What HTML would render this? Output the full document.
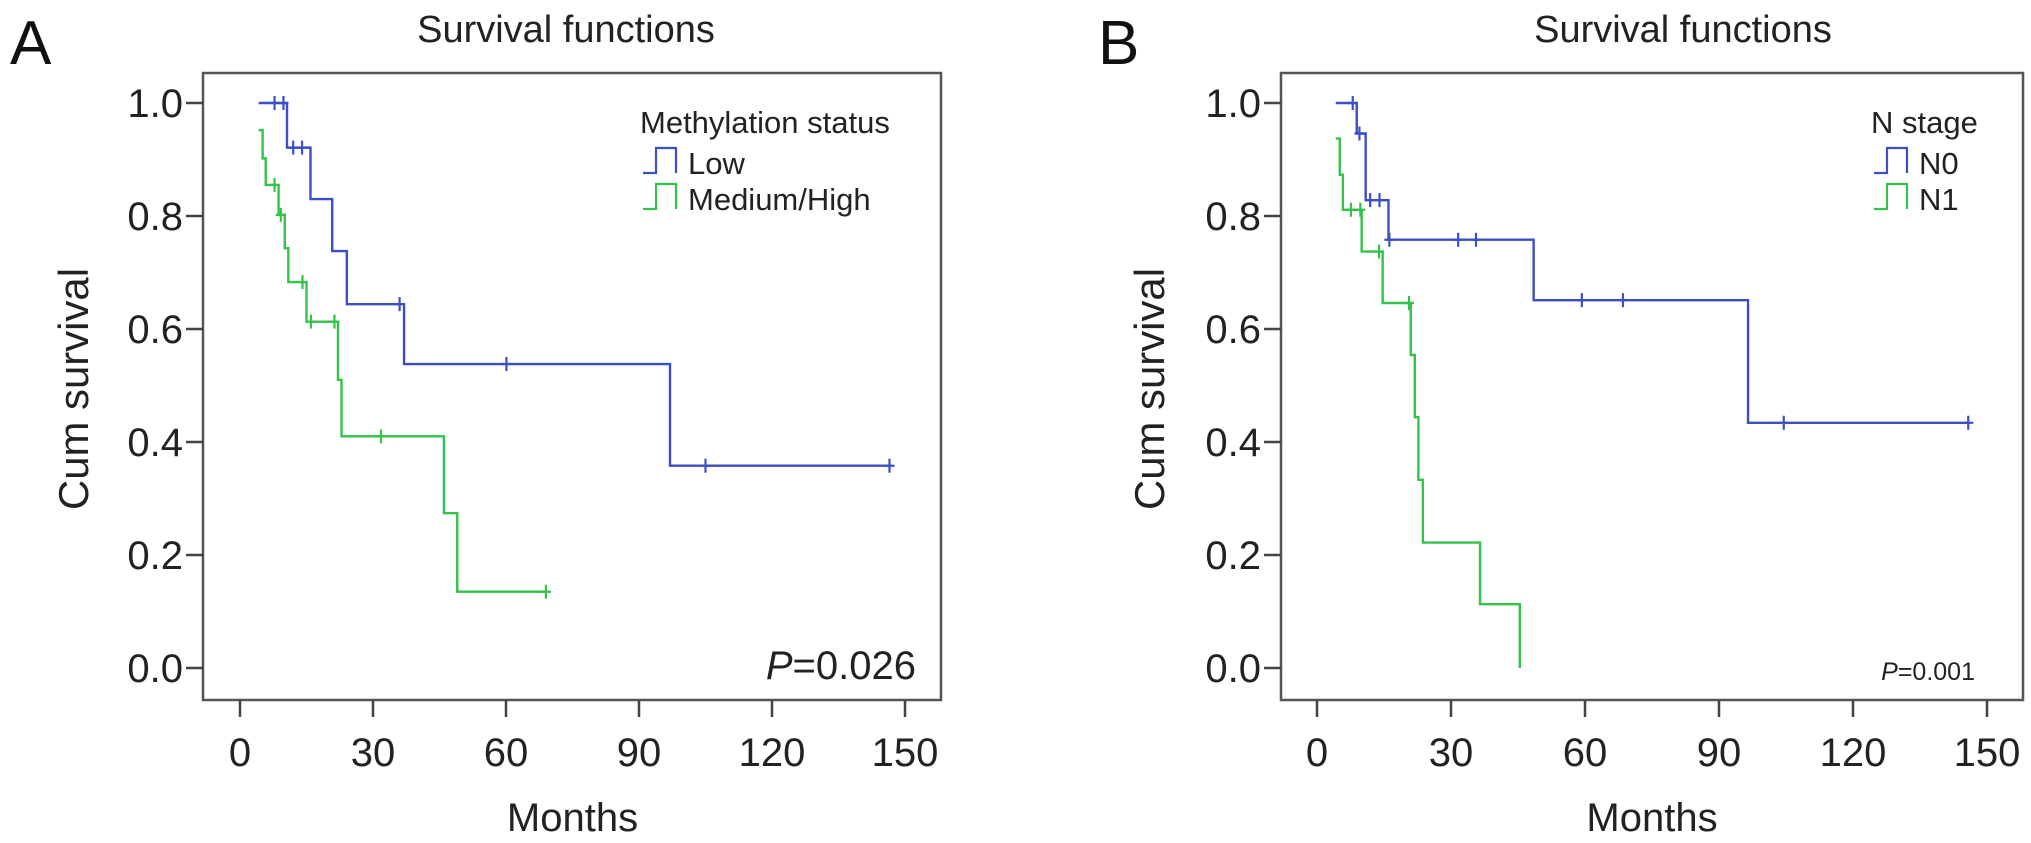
<!DOCTYPE html>
<html><head><meta charset="utf-8">
<style>
html,body{margin:0;padding:0;background:#fff;}
svg{display:block;font-family:"Liberation Sans",Arial,sans-serif;}
</style></head>
<body>
<svg id="fig" width="2031" height="843" viewBox="0 0 2031 843" xmlns="http://www.w3.org/2000/svg"></svg>
<script>
// ---- Panel A data ----
const xTicks = [0, 30, 60, 90, 120, 150];
const yTicks = [0.0, 0.2, 0.4, 0.6, 0.8, 1.0];
const lowStart = [4.2, 1.0];
const lowDropTimes = [10.6, 15.9, 20.8, 24.1, 37.0, 97.0];
const lowDropSurv = [0.921, 0.830, 0.738, 0.644, 0.538, 0.358];
const lowCensor = [7.8, 9.8, 12.0, 14.0, 36.0, 60.1, 105, 146.5];
const medStart = [4.2, 0.952];
const medDropTimes = [5.1, 5.8, 8.7, 10.1, 10.9, 15.0, 22.1, 22.9, 46.0, 49.0];
const medDropSurv = [0.902, 0.855, 0.802, 0.743, 0.683, 0.613, 0.510, 0.410, 0.274, 0.135];
const medCensor = [7.8, 9.2, 14.1, 16.0, 21.3, 31.8, 69.0];
// ---- Panel B data ----
const n0Start = [4.2, 1.0];
const n0DropTimes = [8.9, 10.9, 16.0, 48.5, 96.5];
const n0DropSurv = [0.946, 0.828, 0.758, 0.651, 0.434];
const n0Censor = [8.0, 9.5, 11.9, 14.0, 16.2, 31.6, 35.6, 59.3, 68.5, 104.5, 145.8];
const n1Start = [4.2, 0.937];
const n1DropTimes = [5.1, 5.8, 10.0, 14.7, 21.0, 21.9, 22.7, 23.7, 36.5, 45.4];
const n1DropSurv = [0.873, 0.811, 0.737, 0.646, 0.554, 0.444, 0.333, 0.222, 0.113, 0.0];
const n1Censor = [7.6, 9.7, 13.9, 20.6];

const NS = "http://www.w3.org/2000/svg";
const svg = document.getElementById('fig');
const BLUE = "#3d4fc4", GREEN = "#33c24a";
function el(tag, attrs, parent, text){
  const e = document.createElementNS(NS, tag);
  for (const k in attrs) e.setAttribute(k, attrs[k]);
  if (text !== undefined) e.textContent = text;
  (parent||svg).appendChild(e);
  return e;
}

function panel(p){
  const g = el('g', {});
  
  
  const X = t => p.x0 + t * p.pxPerMonth;
  const Y = s => 668 - s * 565;
  // letter
  const L = el('text', {x:p.letterX, y:64, 'font-size':62, fill:'#111'}, g, p.letter);
  
  
  // title
  const T = el('text', {x:p.titleX, y:42, 'font-size':38, 'text-anchor':'middle', fill:'#222'}, g, 'Survival functions');
  
  
  // frame
  const F = el('rect', {x:p.left, y:73, width:p.right-p.left, height:627, fill:'none', stroke:'#555', 'stroke-width':2.5}, g);
  
  
  // y ticks
  yTicks.forEach(v => {
    const tk = el('line', {x1:p.left-17, x2:p.left, y1:Y(v), y2:Y(v), stroke:'#444', 'stroke-width':2.5}, g);
    
    
    const lb = el('text', {x:p.left-20, y:Y(v)+14, 'font-size':40, 'text-anchor':'end', fill:'#222'}, g, v.toFixed(1));
    
    
  });
  // x ticks
  xTicks.forEach(v => {
    const tk = el('line', {x1:X(v), x2:X(v), y1:700, y2:717, stroke:'#444', 'stroke-width':2.5}, g);
    
    
    const lb = el('text', {x:X(v), y:766, 'font-size':40, 'text-anchor':'middle', fill:'#222'}, g, String(v));
    
    
  });
  const XL = el('text', {x:X(75), y:831, 'font-size':40, 'text-anchor':'middle', fill:'#222'}, g, 'Months');
  
  
  const YL = el('text', {x:0, y:0, 'font-size':42, 'text-anchor':'middle', fill:'#222', transform:`translate(${p.ylabX},389) rotate(-90)`, textLength:242, lengthAdjust:'spacingAndGlyphs'}, g, 'Cum survival');
  
  
  // curves
  p.series.forEach(s => {
    let d = `M${X(s.start[0])},${Y(s.start[1])}`;
    let cur = s.start[1];
    s.times.forEach((t,i) => {
      d += ` H${X(t)} V${Y(s.surv[i])}`;
      cur = s.surv[i];
    });
    const endT = Math.max(s.censor.length ? s.censor[s.censor.length-1] : 0, s.times[s.times.length-1]);
    d += ` H${X(endT)}`;
    const path = el('path', {d:d, fill:'none', stroke:s.color, 'stroke-width':2.4}, g);
    
    
    s.censor.forEach(c => {
      let sv = s.start[1];
      s.times.forEach((t,i) => { if (t <= c) sv = s.surv[i]; });
      const m = el('path', {d:`M${X(c)},${Y(sv)-7} V${Y(sv)+7} M${X(c)-5},${Y(sv)} H${X(c)+5}`, stroke:s.color, 'stroke-width':2.2}, g);
      
      
    });
  });
  // legend
  const lg = el('g', {}, g);
  
  
  const lt = el('text', {x:p.legX, y:133, 'font-size':31, fill:'#222'}, lg, p.legTitle);
  
  
  p.series.forEach((s,i) => {
    const by = [174, 210][i];
    const ic = el('path', {d:`M${p.legX+3},${by-1} H${p.legX+16} V${by-26} H${p.legX+36} V${by-1}`, fill:'none', stroke:s.color, 'stroke-width':2.2}, lg);
    
    
    const tx = el('text', {x:p.legX+48, y:by, 'font-size':31, fill:'#222'}, lg, s.label);
    
    
  });
  // p value
  const pv = el('text', {x:p.pX, y:p.pY, 'font-size':p.pSize, 'text-anchor':'end', fill:'#222'}, g);
  
  
  const it = el('tspan', {'font-style':'italic'}, pv, 'P');
  el('tspan', {}, pv, '=' + p.pText);
}

panel({name:'panel-a', letter:'A', letterX:10, titleX:566, left:203, right:941, x0:240, pxPerMonth:133/30, ylabX:88,
  legX:640, legTitle:'Methylation status', pX:916, pY:679, pSize:40, pText:'0.026',
  series:[
    {name:'low', label:'Low', color:BLUE, start:lowStart, times:lowDropTimes, surv:lowDropSurv, censor:lowCensor},
    {name:'medium-high', label:'Medium/High', color:GREEN, start:medStart, times:medDropTimes, surv:medDropSurv, censor:medCensor}
  ]});
panel({name:'panel-b', letter:'B', letterX:1098, titleX:1683, left:1281, right:2023, x0:1317, pxPerMonth:134/30, ylabX:1164,
  legX:1871, legTitle:'N stage', pX:1975, pY:680, pSize:25, pText:'0.001',
  series:[
    {name:'n0', label:'N0', color:BLUE, start:n0Start, times:n0DropTimes, surv:n0DropSurv, censor:n0Censor},
    {name:'n1', label:'N1', color:GREEN, start:n1Start, times:n1DropTimes, surv:n1DropSurv, censor:n1Censor}
  ]});
</script>
</body></html>
